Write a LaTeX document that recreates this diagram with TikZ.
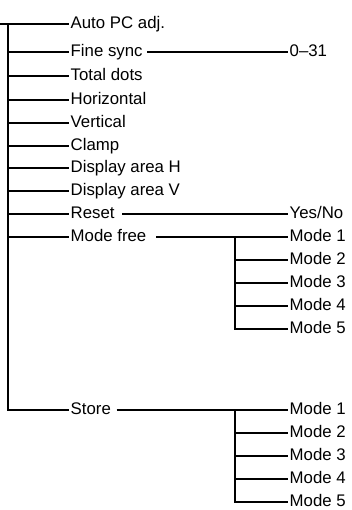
\documentclass[tikz,border=0pt]{standalone}
\usepackage{fontspec}
\setmainfont{Liberation Sans}
\begin{document}
\begin{tikzpicture}[x=1pt,y=-1pt,line width=1.4pt,
  every node/.style={font=\fontsize{16.8}{18}\selectfont,inner sep=1pt,anchor=west,text height=12pt,text depth=3.5pt}]
\useasboundingbox (0,0) rectangle (352,510);
% menu items on the trunk
\node (auto) at (69,24) {Auto PC adj.};
\foreach \n/\y/\t in {fine/52/Fine sync,total/76/Total dots,horiz/100/Horizontal,vert/123/Vertical,
  clamp/146/Clamp,disph/168/Display area H,dispv/191/Display area V,reset/214/Reset,
  free/237/Mode free,store/410/Store}
  \node (\n) at (69,\y) {\t};
% settings on the right
\node (range) at (288,52) {0--31};
\node (yesno) at (288,214) {Yes/No};
\foreach \i/\y in {1/237,2/260,3/283,4/306,5/329} \node (fm\i) at (288,\y) {Mode \i};
\foreach \i/\y in {1/410,2/433,3/456,4/479,5/502} \node (sm\i) at (288,\y) {Mode \i};
% trunk
\coordinate (in) at (0,24);
\coordinate (trunk) at (8,0);
\coordinate (sub) at (235,0);
\draw (in) -- (auto.west);
\draw (trunk |- auto.west) -- (trunk |- store.west) -- (store.west);
\foreach \n in {fine,total,horiz,vert,clamp,disph,dispv,reset,free}
  \draw (trunk |- \n.west) -- (\n.west);
% branches to the right
\draw[shorten <=3pt] (fine.east) -- (range.west);
\draw[shorten <=6pt] (reset.east) -- (yesno.west);
\draw[shorten <=8pt] (free.east) -- (fm1.west);
\draw[shorten <=4pt] (store.east) -- (sm1.west);
\draw (sub |- fm1.west) -- (sub |- fm5.west) -- (fm5.west);
\draw (sub |- sm1.west) -- (sub |- sm5.west) -- (sm5.west);
\foreach \i in {2,3,4} {\draw (sub |- fm\i.west) -- (fm\i.west); \draw (sub |- sm\i.west) -- (sm\i.west);}
\end{tikzpicture}
\end{document}
